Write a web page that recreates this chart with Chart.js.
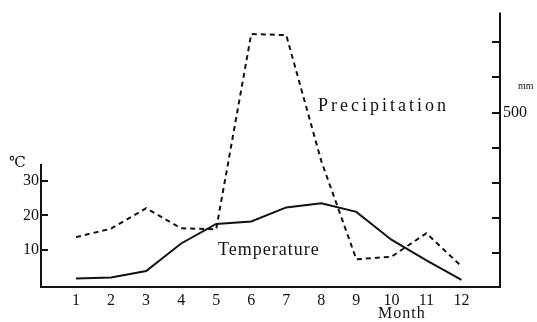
<!DOCTYPE html>
<html><head><meta charset="utf-8">
<script src="https://cdn.jsdelivr.net/npm/chart.js@4.4.1/dist/chart.umd.min.js"></script>
<style>html,body{margin:0;padding:0;background:#fff}canvas{display:block}</style>
</head><body>
<canvas id="c" width="537" height="322"></canvas>
<script>
const months = [1,2,3,4,5,6,7,8,9,10,11,12];
const temperature = [1.6,1.9,3.8,11.8,17.5,18.2,22.3,23.5,21.0,12.9,6.9,1.2];
const precipitation = [146,170,228,171,168,723,720,362,83,90,157,63];
const tempTickLabels = [10,20,30];
const precipTickMarks = [100,200,300,400,500,600,700];
const precipTickLabels = [500];

const SERIF = '"Liberation Serif", "DejaVu Serif", serif';
const INK = '#111';

const axesPlugin = {
  id: 'axesPlugin',
  afterDatasetsDraw(chart) {
    const ctx = chart.ctx, ca = chart.chartArea;
    const yT = chart.scales.yT, yP = chart.scales.yP;
    ctx.save();
    ctx.strokeStyle = INK;
    ctx.lineWidth = 2;
    ctx.lineCap = 'butt';
    ctx.beginPath();
    // x axis
    ctx.moveTo(ca.left - 1, ca.bottom);
    ctx.lineTo(ca.right + 1, ca.bottom);
    // left axis (short)
    ctx.moveTo(ca.left, yT.getPixelForValue(34.9));
    ctx.lineTo(ca.left, ca.bottom + 1);
    tempTickLabels.forEach(v => {
      const y = Math.round(yT.getPixelForValue(v));
      ctx.moveTo(ca.left, y); ctx.lineTo(ca.left + 7, y);
    });
    // right axis
    ctx.moveTo(ca.right, ca.top);
    ctx.lineTo(ca.right, ca.bottom + 1);
    precipTickMarks.forEach(v => {
      const y = Math.round(yP.getPixelForValue(v));
      ctx.moveTo(ca.right - 8, y); ctx.lineTo(ca.right, y);
    });
    ctx.stroke();

    ctx.fillStyle = INK;
    ctx.textBaseline = 'middle';
    ctx.textAlign = 'left';
    ctx.font = '18px ' + SERIF;
    ctx.letterSpacing = '3px';
    ctx.fillText('Precipitation', 318, 106);
    ctx.letterSpacing = '1px';
    ctx.fillText('Temperature', 218, 250);
    ctx.font = '16px ' + SERIF;
    ctx.letterSpacing = '1px';
    ctx.fillText('Month', 378, 314);
    ctx.letterSpacing = '0px';
    ctx.font = '10px ' + SERIF;
    ctx.fillText('mm', 518, 86);
    ctx.font = '15px ' + SERIF;
    ctx.fillText('\u2103', 9, 163);
    ctx.restore();
  }
};

new Chart(document.getElementById('c'), {
  type: 'line',
  data: {
    datasets: [
      {
        label: 'Temperature',
        data: months.map((m, i) => ({x: m, y: temperature[i]})),
        yAxisID: 'yT',
        borderColor: INK,
        borderWidth: 2,
        pointRadius: 0,
        tension: 0,
        fill: false
      },
      {
        label: 'Precipitation',
        data: months.map((m, i) => ({x: m, y: precipitation[i]})),
        yAxisID: 'yP',
        borderColor: INK,
        borderWidth: 2,
        borderDash: [5, 4],
        pointRadius: 0,
        tension: 0,
        fill: false
      }
    ]
  },
  options: {
    responsive: false,
    animation: false,
    devicePixelRatio: 1,
    layout: {padding: {top: 10, left: 0, right: 0, bottom: 0}},
    plugins: {legend: {display: false}, tooltip: {enabled: false}},
    scales: {
      x: {
        type: 'linear', min: 0, max: 13.1,
        grid: {display: false, drawTicks: false},
        border: {display: false},
        afterBuildTicks: s => { s.ticks = months.map(v => ({value: v})); },
        afterFit: s => { s.height = 35; },
        ticks: {color: INK, padding: 4, maxRotation: 0, autoSkip: false,
                font: {family: SERIF, size: 16}, callback: v => String(v)}
      },
      yT: {
        type: 'linear', position: 'left', min: -0.86, max: 78.97,
        grid: {display: false, drawTicks: false},
        border: {display: false},
        afterBuildTicks: s => { s.ticks = tempTickLabels.map(v => ({value: v})); },
        afterFit: s => { s.width = 41; },
        ticks: {color: INK, padding: 2, font: {family: SERIF, size: 16}, callback: v => String(v)}
      },
      yP: {
        type: 'linear', position: 'right', min: 4.2, max: 784,
        grid: {display: false, drawTicks: false},
        border: {display: false},
        afterBuildTicks: s => { s.ticks = precipTickLabels.map(v => ({value: v})); },
        afterFit: s => { s.width = 37; },
        ticks: {color: INK, padding: 3, font: {family: SERIF, size: 16}, callback: v => String(v)}
      }
    }
  },
  plugins: [axesPlugin]
});
</script>
</body></html>
